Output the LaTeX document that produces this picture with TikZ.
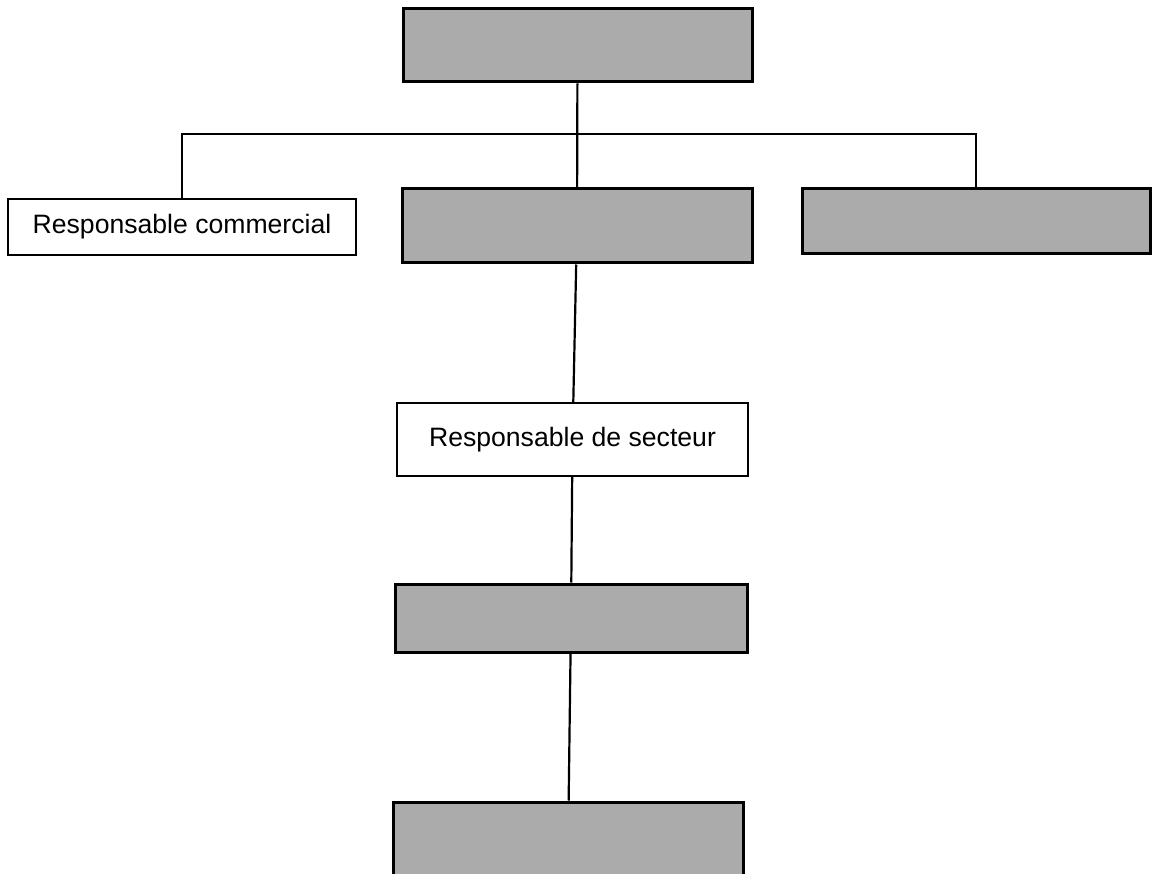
\documentclass[tikz,border=0pt]{standalone}
\usepackage{fontspec}
\setmainfont{Liberation Sans}
\usepackage{tikz}

\begin{document}
\begin{tikzpicture}[x=1pt,y=-1pt,
		poste/.style={draw, line width=2.2pt, inner sep=0pt, fill=white, font=\fontsize{26.6}{32}\selectfont},
		masque/.style={poste, line width=3pt, fill=black!33},
		lien/.style={line width=2.2pt}]
				\clip (0,0) rectangle (1153,874);
				\node[masque, minimum width=349pt, minimum height=73pt] (dir) at (577.5,45.5) {};
				\node[poste, minimum width=348pt, minimum height=56pt] (com) at (182,227) {Responsable commercial};
				\node[masque, minimum width=350pt, minimum height=74pt] (mil) at (577,226) {};
				\node[masque, minimum width=348pt, minimum height=65pt] (dro) at (976,221.5) {};
				\node[poste, minimum width=351pt, minimum height=73pt] (sec) at (572.5,439.5) {Responsable de secteur};
				\node[masque, minimum width=352pt, minimum height=68pt] (bas) at (571,618) {};
				\node[masque, minimum width=350pt, minimum height=98pt] (fin) at (568,851) {};
				\coordinate (bus) at (577,134);
				\draw[lien] (dir) -- (mil);
				\draw[lien] (com.north) |- (bus) -| (dro.north);
				\draw[lien] (mil) -- (sec);
				\draw[lien] (sec) -- (bas);
				\draw[lien] (bas) -- (fin);
				\end{tikzpicture}
\end{document}
